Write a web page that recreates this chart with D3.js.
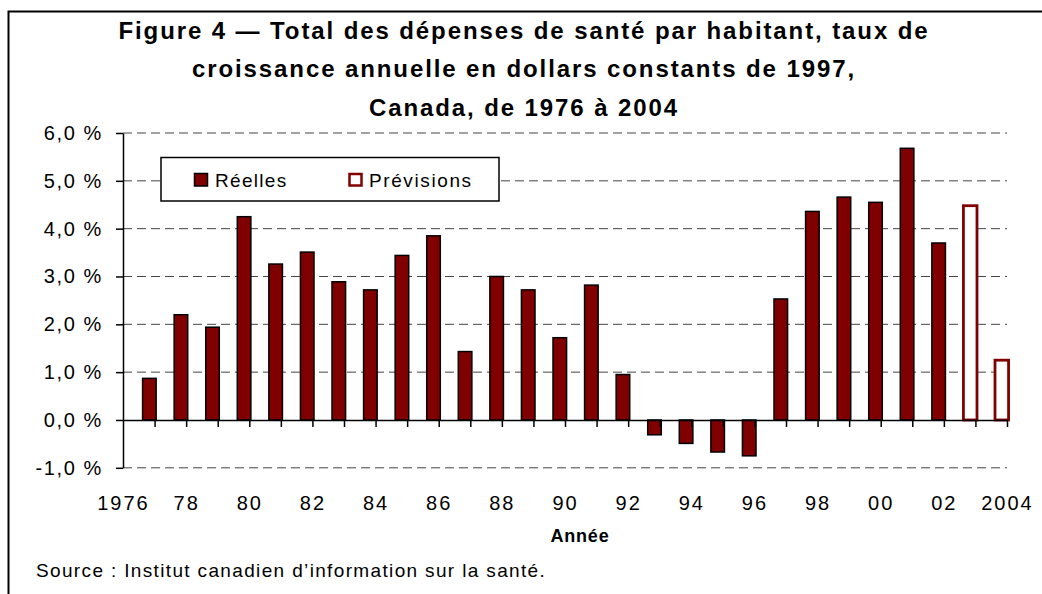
<!DOCTYPE html>
<html>
<head>
<meta charset="utf-8">
<script src="https://cdnjs.cloudflare.com/ajax/libs/d3/7.8.5/d3.min.js"></script>
<style>
  body { margin: 0; background: #fff; }
  svg { display: block; font-family: "Liberation Sans", Arial, sans-serif; }
</style>
</head>
<body>
<div id="chart"></div>
<script>
// Real values (Réelles), 1977-2002
const reelYears = [1977, 1978, 1979, 1980, 1981, 1982, 1983, 1984, 1985, 1986, 1987, 1988, 1989,
  1990, 1991, 1992, 1993, 1994, 1995, 1996, 1997, 1998, 1999, 2000, 2001, 2002];
const reelValues = [0.87, 2.20, 1.94, 4.25, 3.26, 3.51, 2.89, 2.72, 3.44, 3.85, 1.43, 3.00, 2.72,
  1.72, 2.82, 0.95, -0.31, -0.49, -0.67, -0.75, 2.53, 4.36, 4.66, 4.55, 5.68, 3.70];

// Forecasts (Prévisions)
const prevYears = [2003, 2004];
const prevValues = [4.48, 1.25];

const yTicks = [-1, 0, 1, 2, 3, 4, 5, 6];
const tickYears = [1977, 1978, 1979, 1980, 1981, 1982, 1983, 1984, 1985, 1986, 1987, 1988, 1989, 1990,
  1991, 1992, 1993, 1994, 1995, 1996, 1997, 1998, 1999, 2000, 2001, 2002, 2003, 2004];
const labelYears = [1976, 1978, 1980, 1982, 1984, 1986, 1988, 1990, 1992, 1994, 1996, 1998, 2000, 2002, 2004];
const xLabels = ["1976", "78", "80", "82", "84", "86", "88", "90", "92", "94", "96", "98", "00", "02", "2004"];

const titleLines = [
  "Figure 4 \u2014 Total des dépenses de santé par habitant, taux de",
  "croissance annuelle en dollars constants de 1997,",
  "Canada, de 1976 à 2004"
];

const W = 1042, H = 594;
const MAROON = "#800000";

const svg = d3.select("#chart").append("svg")
  .attr("width", W)
  .attr("height", H);

// frame (left + top border only visible)
svg.append("path")
  .attr("d", "M8.5,594 V11.5 H1042")
  .attr("fill", "none")
  .attr("stroke", "#000")
  .attr("stroke-width", 2);

// title
svg.append("g").selectAll("text")
  .data(titleLines)
  .join("text")
    .attr("x", 524)
    .attr("y", (d, i) => 38.5 + i * 38.5)
    .attr("text-anchor", "middle")
    .attr("font-size", 24)
    .attr("font-weight", "bold")
    .attr("letter-spacing", 1.9)
    .text(d => d);

// scales
const x = d3.scaleLinear().domain([1976, 2004]).range([123, 1007]);
const y = d3.scaleLinear().domain([-1, 6]).range([467.8, 133]);

// grid lines (dashed)
svg.append("g").selectAll("line")
  .data(yTicks.filter(d => d !== 0))
  .join("line")
    .attr("x1", x(1976))
    .attr("x2", x(2004))
    .attr("y1", d => y(d))
    .attr("y2", d => y(d))
    .attr("stroke", "#444")
    .attr("stroke-width", 1)
    .attr("stroke-dasharray", "9,5");

// legend (white box over the grid)
const legend = svg.append("g");
legend.append("rect")
  .attr("x", 161).attr("y", 157.5)
  .attr("width", 338).attr("height", 43.5)
  .attr("fill", "#fff")
  .attr("stroke", "#000")
  .attr("stroke-width", 1.5);
legend.append("rect")
  .attr("x", 194.5).attr("y", 173.5)
  .attr("width", 13).attr("height", 12.5)
  .attr("fill", MAROON)
  .attr("stroke", "#000")
  .attr("stroke-width", 1.5);
legend.append("text")
  .attr("x", 215).attr("y", 186.5)
  .attr("font-size", 19)
  .attr("letter-spacing", 1.3)
  .text("Réelles");
legend.append("rect")
  .attr("x", 349.5).attr("y", 174)
  .attr("width", 12).attr("height", 11.5)
  .attr("fill", "#fff")
  .attr("stroke", MAROON)
  .attr("stroke-width", 2.5);
legend.append("text")
  .attr("x", 369).attr("y", 186.5)
  .attr("font-size", 19)
  .attr("letter-spacing", 1.6)
  .text("Prévisions");

// bars
const step = x(1977) - x(1976);
const barLeft = d => x(d) - 0.38 * step;
const barW = 0.43 * step;

svg.append("g").selectAll("rect")
  .data(reelYears.map((yr, i) => ({ yr, v: reelValues[i] })))
  .join("rect")
    .attr("x", d => barLeft(d.yr))
    .attr("width", barW)
    .attr("y", d => y(Math.max(0, d.v)))
    .attr("height", d => Math.abs(y(d.v) - y(0)))
    .attr("fill", MAROON)
    .attr("stroke", "#000")
    .attr("stroke-width", 1.5);

svg.append("g").selectAll("rect")
  .data(prevYears.map((yr, i) => ({ yr, v: prevValues[i] })))
  .join("rect")
    .attr("x", d => barLeft(d.yr))
    .attr("width", barW)
    .attr("y", d => y(Math.max(0, d.v)))
    .attr("height", d => Math.abs(y(d.v) - y(0)))
    .attr("fill", "#fff")
    .attr("stroke", MAROON)
    .attr("stroke-width", 2.8);

// y axis
const yAxis = svg.append("g")
  .attr("transform", `translate(${x(1976)},0)`)
  .call(d3.axisLeft(y)
    .tickValues(yTicks)
    .tickSize(7)
    .tickSizeOuter(0)
    .tickPadding(13)
    .tickFormat(d => d3.format(".1f")(d).replace(".", ",").replace("−", "-") + " %"));
yAxis.select(".domain").attr("stroke-width", 1.5);
yAxis.selectAll(".tick line").attr("stroke-width", 1.5);
yAxis.selectAll("text")
  .attr("font-size", 20)
  .attr("letter-spacing", 1.6)
  .attr("fill", "#000")
  .attr("font-family", null);

// zero line with year ticks
const zeroAxis = svg.append("g")
  .attr("transform", `translate(0,${y(0)})`)
  .call(d3.axisBottom(x)
    .tickValues(tickYears)
    .tickSize(7)
    .tickSizeOuter(0)
    .tickFormat(""));
zeroAxis.select(".domain").attr("stroke-width", 1.5);
zeroAxis.selectAll(".tick line").attr("stroke-width", 1.5);

// year labels
const labelAxis = svg.append("g")
  .attr("transform", `translate(0,${y(-1)})`)
  .call(d3.axisBottom(x)
    .tickValues(labelYears)
    .tickSize(0)
    .tickPadding(28)
    .tickFormat((d, i) => xLabels[i]));
labelAxis.select(".domain").remove();
labelAxis.selectAll("text")
  .attr("font-size", 20)
  .attr("letter-spacing", 2)
  .attr("fill", "#000")
  .attr("font-family", null);

// axis title
svg.append("text")
  .attr("x", 580)
  .attr("y", 542)
  .attr("text-anchor", "middle")
  .attr("font-size", 18)
  .attr("font-weight", "bold")
  .attr("letter-spacing", 0.8)
  .text("Année");

// source
svg.append("text")
  .attr("x", 36)
  .attr("y", 577)
  .attr("font-size", 19)
  .attr("letter-spacing", 1.35)
  .text("Source : Institut canadien d\u2019information sur la santé.");
</script>
</body>
</html>
